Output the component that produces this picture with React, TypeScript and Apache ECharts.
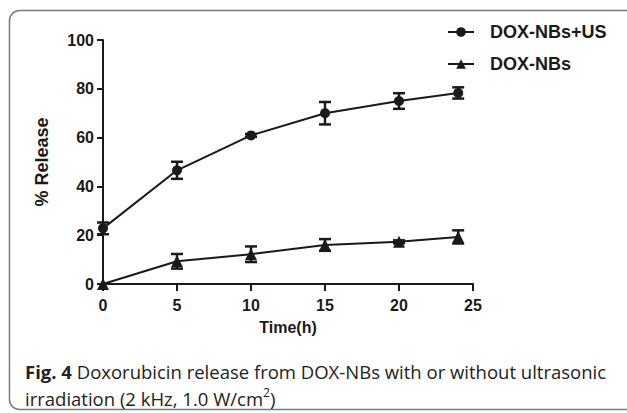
import React, { useEffect, useRef } from "react";
import * as echarts from "echarts";

const times = [0, 5, 10, 15, 20, 24];
const usMean = [22.8, 46.6, 60.9, 70.0, 75.0, 78.3];
const usErr = [2.4, 3.5, 0.6, 4.6, 3.2, 2.3];
const nbMean = [0, 9.3, 12.2, 16.0, 17.3, 19.3];
const nbErr = [0, 3.0, 3.2, 2.4, 0.6, 2.7];
const seriesNames = ["DOX-NBs+US", "DOX-NBs"];
const xTitle = "Time(h)";
const yTitle = "% Release";
const captionBold = "Fig. 4";
const captionLine1 = " Doxorubicin release from DOX-NBs with or without ultrasonic";
const captionLine2 = "irradiation (2 kHz, 1.0 W/cm";

const AXIS_FONT = "'Liberation Sans', Arial, sans-serif";
const CAP_FONT = "'Open Sans', 'Noto Sans', sans-serif";
const INK = "#1a1a1a";

function errData(mean: number[], err: number[]) {
  return times.map((t, i) => [t, mean[i] - err[i], mean[i] + err[i]]);
}

function errorRender(params: any, api: any) {
  const x = api.value(0);
  const lo = api.coord([x, api.value(1)]);
  const hi = api.coord([x, api.value(2)]);
  const hw = 6;
  const style = { stroke: INK, lineWidth: 2.5 };
  return {
    type: "group",
    children: [
      { type: "line", shape: { x1: hi[0], y1: hi[1], x2: lo[0], y2: lo[1] }, style },
      { type: "line", shape: { x1: hi[0] - hw, y1: hi[1], x2: hi[0] + hw, y2: hi[1] }, style },
      { type: "line", shape: { x1: lo[0] - hw, y1: lo[1], x2: lo[0] + hw, y2: lo[1] }, style },
    ],
  };
}

export default function App() {
  const ref = useRef<HTMLDivElement>(null);
  useEffect(() => {
    if (!ref.current) return;
    const chart = echarts.init(ref.current, null, { renderer: "svg" });
    chart.setOption({
      animation: false,
      backgroundColor: "#ffffff",
      grid: { left: 103, right: 154, top: 40, bottom: 129 },
      legend: {
        data: seriesNames,
        orient: "vertical",
        left: 447,
        top: 23,
        padding: 0,
        itemWidth: 26,
        itemHeight: 12,
        itemGap: 14,
        textStyle: { fontFamily: AXIS_FONT, fontWeight: "bold", fontSize: 18, color: INK, padding: [0, 0, 0, 11] },
      },
      xAxis: {
        type: "value",
        min: 0,
        max: 25,
        interval: 5,
        name: xTitle,
        nameLocation: "middle",
        nameGap: 35,
        nameTextStyle: { fontFamily: AXIS_FONT, fontWeight: "bold", fontSize: 16, color: INK },
        axisLine: { lineStyle: { color: INK, width: 2 } },
        axisTick: { show: true, length: 7, lineStyle: { color: INK, width: 2 } },
        axisLabel: { margin: 13, fontFamily: AXIS_FONT, fontWeight: "bold", fontSize: 16, color: INK },
        splitLine: { show: false },
      },
      yAxis: {
        type: "value",
        min: 0,
        max: 100,
        interval: 20,
        name: yTitle,
        nameLocation: "middle",
        nameGap: 52,
        nameRotate: 90,
        nameTextStyle: { fontFamily: AXIS_FONT, fontWeight: "bold", fontSize: 18, color: INK },
        axisLine: { show: true, lineStyle: { color: INK, width: 2 } },
        axisTick: { show: true, length: 6, lineStyle: { color: INK, width: 2 } },
        axisLabel: { margin: 9, fontFamily: AXIS_FONT, fontWeight: "bold", fontSize: 16, color: INK },
        splitLine: { show: false },
      },
      series: [
        {
          name: seriesNames[0],
          type: "line",
          data: times.map((t, i) => [t, usMean[i]]),
          symbol: "circle",
          symbolSize: 10,
          itemStyle: { color: INK },
          lineStyle: { color: INK, width: 2 },
          z: 3,
        },
        {
          name: seriesNames[1],
          type: "line",
          data: times.map((t, i) => [t, nbMean[i]]),
          symbol: "triangle",
          symbolSize: 12,
          itemStyle: { color: INK },
          lineStyle: { color: INK, width: 2 },
          z: 3,
        },
        {
          type: "custom",
          data: errData(usMean, usErr).filter((d, i) => usErr[i] > 0),
          renderItem: errorRender,
          z: 2,
          silent: true,
        },
        {
          type: "custom",
          data: errData(nbMean, nbErr).filter((d, i) => nbErr[i] > 0),
          renderItem: errorRender,
          z: 2,
          silent: true,
        },
      ],
      graphic: [
        {
          type: "rect",
          shape: { x: 9.5, y: 10.5, width: 700, height: 399, r: 10 },
          style: { fill: "none", stroke: "#7a7a7a", lineWidth: 1.5 },
          z: 0,
        },
        {
          type: "text",
          x: 25,
          y: 371,
          style: {
            text: `{b|${captionBold}}{n|${captionLine1}}`,
            verticalAlign: "middle",
            rich: {
              b: { fontFamily: CAP_FONT, fontWeight: "bold", fontSize: 18.5, fill: "#222" },
              n: { fontFamily: CAP_FONT, fontSize: 18.5, fill: "#222" },
            },
          },
        },
        {
          type: "text",
          x: 25,
          y: 397,
          style: {
            text: `{n|${captionLine2}}{s|2}{n|)}`,
            verticalAlign: "middle",
            rich: {
              n: { fontFamily: CAP_FONT, fontSize: 18.5, fill: "#222", verticalAlign: "bottom" },
              s: { fontFamily: CAP_FONT, fontSize: 12, fill: "#222", padding: [0, 0, 10, 0], verticalAlign: "bottom" },
            },
          },
        },
      ],
    });
    return () => chart.dispose();
  }, []);
  return (
    <div
      ref={ref}
      style={{ position: "fixed", left: 0, top: 0, width: 627, height: 413 }}
    />
  );
}
